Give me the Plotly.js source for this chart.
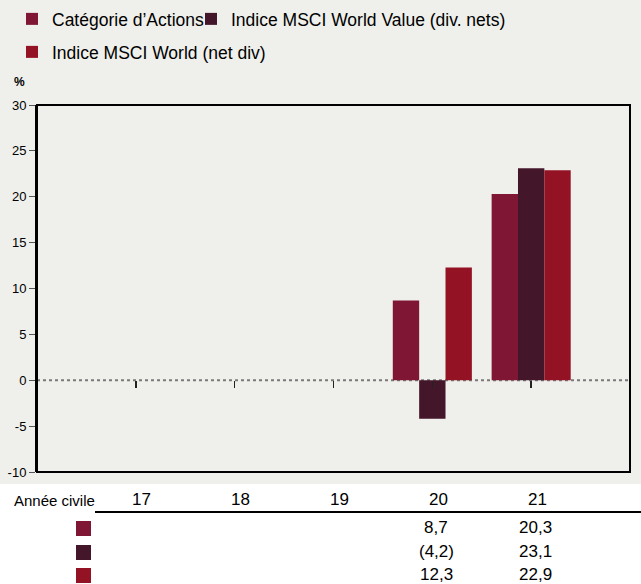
<!DOCTYPE html>
<html>
<head>
<meta charset="utf-8">
<script src="https://cdn.plot.ly/plotly-3.0.1.min.js"></script>
<style>html,body{margin:0;padding:0;background:#fff;}#chart{width:641px;height:584px;}</style>
</head>
<body>
<div id="chart"></div>
<script>
// ---- data ----
const years = ['17', '18', '19', '20', '21'];
const seriesNames = ["Catégorie d’Actions", "Indice MSCI World Value (div. nets)", "Indice MSCI World (net div)"];
const categorie = [null, null, null, 8.7, 20.3];
const msciValue = [null, null, null, -4.2, 23.1];
const msciWorld = [null, null, null, 12.3, 22.9];
const tableLabels = [
  ['', '', '', '8,7', '20,3'],
  ['', '', '', '(4,2)', '23,1'],
  ['', '', '', '12,3', '22,9']
];
const colors = ['#7f1734', '#43162a', '#931324'];
const yTicks = [-10, -5, 0, 5, 10, 15, 20, 25, 30];

// ---- geometry helpers (pixel -> paper) ----
const W = 641, H = 584;
const L = 37, R = 11, T = 105, B = 112;
const pw = W - L - R, ph = H - T - B;
const px = v => (v - L) / pw;
const py = v => (H - B - v) / ph;

const font = 'Liberation Sans, Arial, sans-serif';
const gray = '#efefeb';

const seriesVals = [categorie, msciValue, msciWorld];
const legendIds = ['legend', 'legend2', 'legend3'];
const traces = seriesVals.map((vals, i) => ({
  type: 'bar', x: years, y: vals, name: seriesNames[i],
  marker: {color: colors[i], line: {width: 0}},
  legend: legendIds[i], hoverinfo: 'x+y+name'
}));

const shapes = [
  // white table area
  {type: 'rect', xref: 'paper', yref: 'paper', x0: px(-5), x1: px(W + 5), y0: py(484), y1: py(H + 5), fillcolor: '#ffffff', line: {width: 0}, layer: 'below'},
  // dotted zero line
  {type: 'line', xref: 'paper', yref: 'y', x0: 0, x1: 1, y0: 0, y1: 0, line: {color: '#7a7a7a', width: 2, dash: 'dot'}, layer: 'below'},
  // plot frame
  {type: 'rect', xref: 'paper', yref: 'paper', x0: 0, x1: 1, y0: 0, y1: 1, line: {color: '#000', width: 2}, fillcolor: 'rgba(0,0,0,0)', layer: 'above'},
  // table header rule
  {type: 'line', xref: 'paper', yref: 'paper', x0: px(95), x1: px(W + 5), y0: py(512), y1: py(512), line: {color: '#000', width: 2}}
];
const rowY = [527, 551, 574];
rowY.forEach((yc, i) => {
  shapes.push({type: 'rect', xref: 'paper', yref: 'paper', x0: px(76), x1: px(91), y0: py(yc - 6), y1: py(yc + 9), fillcolor: colors[i], line: {width: 0}});
});

const annotations = [
  {text: '<b>%</b>', xref: 'paper', yref: 'paper', x: px(19), y: py(82), showarrow: false, font: {family: font, size: 12, color: '#000'}, xanchor: 'center', yanchor: 'middle'},
  {text: 'Année civile', xref: 'paper', yref: 'paper', x: px(12), y: py(500), showarrow: false, font: {family: font, size: 15, color: '#000'}, xanchor: 'left', yanchor: 'middle'}
];
years.forEach((yr, i) => {
  annotations.push({text: yr, xref: 'x', yref: 'paper', x: i, xshift: 6, y: py(499), showarrow: false, font: {family: font, size: 17, color: '#000'}, xanchor: 'center', yanchor: 'middle'});
});
tableLabels.forEach((row, r) => {
  row.forEach((lbl, c) => {
    if (!lbl) return;
    annotations.push({text: lbl, xref: 'x', yref: 'paper', x: c, xshift: 4, y: py(rowY[r]), showarrow: false, font: {family: font, size: 17, color: '#000'}, xanchor: 'center', yanchor: 'middle'});
  });
});

const legendBase = {orientation: 'h', bgcolor: 'rgba(0,0,0,0)', borderwidth: 0, font: {family: font, size: 17.5, color: '#000'}, xanchor: 'left', yanchor: 'middle', xref: 'paper', yref: 'paper'};

const layout = {
  width: W, height: H,
  margin: {l: L, r: R, t: T, b: B, pad: 0, autoexpand: false},
  paper_bgcolor: gray, plot_bgcolor: gray,
  font: {family: font, size: 13, color: '#000'},
  barmode: 'group', bargap: 0.2, bargroupgap: 0,
  showlegend: true,
  legend: Object.assign({}, legendBase, {x: px(12), y: py(19)}),
  legend2: Object.assign({}, legendBase, {x: px(191), y: py(19)}),
  legend3: Object.assign({}, legendBase, {x: px(12), y: py(52)}),
  xaxis: {type: 'category', range: [-1, 5], anchor: 'free', position: py(380), showticklabels: false, ticks: 'outside', ticklen: 7, tickwidth: 1.5, tickcolor: '#222', layer: 'above traces', showline: false, showgrid: false, zeroline: false, fixedrange: true},
  yaxis: {range: [-10, 30], tickvals: yTicks, ticktext: yTicks.map(String), ticks: 'outside', ticklen: 6, tickwidth: 1, tickcolor: '#555', showline: true, linecolor: '#000', linewidth: 2, showgrid: false, zeroline: false, tickfont: {family: font, size: 13, color: '#000'}, fixedrange: true},
  shapes: shapes,
  annotations: annotations
};

Plotly.newPlot('chart', traces, layout, {displayModeBar: false, staticPlot: true});
</script>
</body>
</html>
